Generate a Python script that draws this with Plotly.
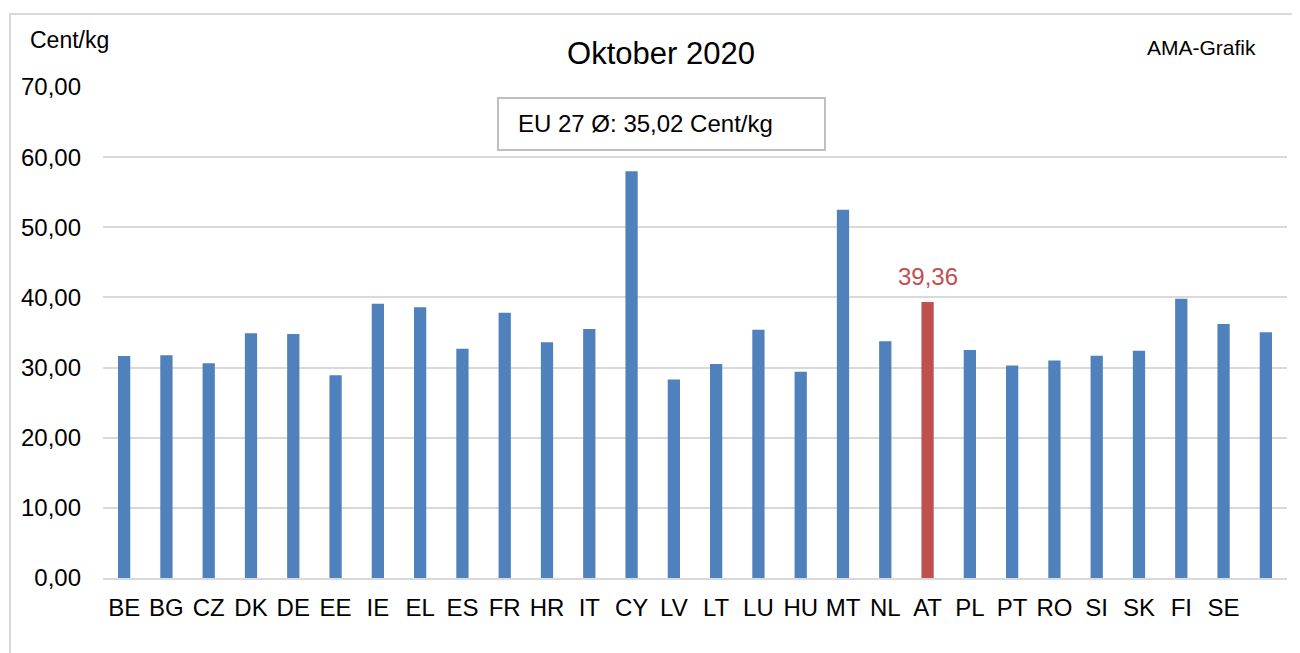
import plotly.graph_objects as go

countries = ["BE", "BG", "CZ", "DK", "DE", "EE", "IE", "EL", "ES", "FR", "HR", "IT", "CY", "LV",
             "LT", "LU", "HU", "MT", "NL", "AT", "PL", "PT", "RO", "SI", "SK", "FI", "SE", ""]
values = [31.65, 31.75, 30.6, 34.9, 34.8, 28.9, 39.1, 38.6, 32.7, 37.8, 33.6, 35.5, 58.0, 28.3,
          30.5, 35.4, 29.4, 52.5, 33.75, 39.36, 32.5, 30.3, 31.0, 31.7, 32.4, 39.8, 36.2, 35.02]
highlight = "AT"
eu_avg = 35.02

BLUE = "#4f81bd"
RED = "#c0504d"
FONT = "Liberation Sans, Arial, sans-serif"

# page offset (body margin) and plot area in figure pixels
OFF = 8
W_FIG, H_FIG = 1300, 653
L, R, T, B = 103 - OFF, 13 + OFF, 87 - OFF, 75 + OFF
PW = W_FIG - L - R
PH = H_FIG - T - B


def fx(vx):
    return (vx - OFF - L) / PW


def fy(vy):
    return (H_FIG - B - (vy - OFF)) / PH


xpos = list(range(len(countries)))
colors = [RED if c == highlight else BLUE for c in countries]
hi = countries.index(highlight)

fig = go.Figure()
fig.add_trace(go.Bar(
    x=xpos, y=values, marker=dict(color=colors, line=dict(width=0)),
    width=0.29, showlegend=False, hoverinfo="x+y",
))

fig.update_layout(
    width=W_FIG, height=H_FIG,
    margin=dict(l=L, r=R, t=T, b=B),
    paper_bgcolor="white", plot_bgcolor="white",
    separators=", ",
    font=dict(family=FONT, color="black", size=24),
    title=dict(text="Oktober 2020", x=(661 - OFF) / W_FIG, y=1 - (53 - OFF) / H_FIG,
               xref="container", yref="container", xanchor="center", yanchor="middle",
               font=dict(size=31, family=FONT, color="black")),
    xaxis=dict(tickmode="array", tickvals=xpos, ticktext=countries, range=[-0.5, len(countries) - 0.5],
               showgrid=False, showline=True, linecolor="#d9d9d9", linewidth=2, ticks="",
               tickfont=dict(size=24, family=FONT), zeroline=False, ticklabelstandoff=7),
    yaxis=dict(range=[0, 70], dtick=10, tickformat=".2f", showgrid=True, gridcolor="#d9d9d9",
               gridwidth=2, zeroline=False, showline=False, ticks="", ticklabelstandoff=21,
               tickfont=dict(size=24, family=FONT)),
    shapes=[
        dict(type="rect", xref="paper", yref="paper",
             x0=fx(10), x1=fx(1330), y0=fy(690), y1=fy(14),
             line=dict(color="#d9d9d9", width=2), fillcolor="rgba(0,0,0,0)", layer="below"),
        dict(type="rect", xref="paper", yref="paper",
             x0=fx(498), x1=fx(825), y0=fy(150), y1=fy(98),
             line=dict(color="#bfbfbf", width=2), fillcolor="white"),
    ],
)

fig.add_annotation(text="Cent/kg", xref="paper", yref="paper", x=fx(28), y=fy(40),
                   showarrow=False, font=dict(size=23, family=FONT), xanchor="left", yanchor="middle")
fig.add_annotation(text="AMA-Grafik", xref="paper", yref="paper", x=fx(1145), y=fy(47),
                   showarrow=False, font=dict(size=21, family=FONT), xanchor="left", yanchor="middle")
fig.add_annotation(text=f"EU 27 Ø: {eu_avg:.2f} Cent/kg".replace(".", ","), xref="paper", yref="paper",
                   x=fx(516), y=fy(124), showarrow=False, font=dict(size=24, family=FONT),
                   xanchor="left", yanchor="middle")
fig.add_annotation(x=hi, y=values[hi], text=f"{values[hi]:.2f}".replace(".", ","),
                   showarrow=False, yanchor="bottom", yshift=10,
                   font=dict(color=RED, size=24, family=FONT))

fig.write_html("out.html")
